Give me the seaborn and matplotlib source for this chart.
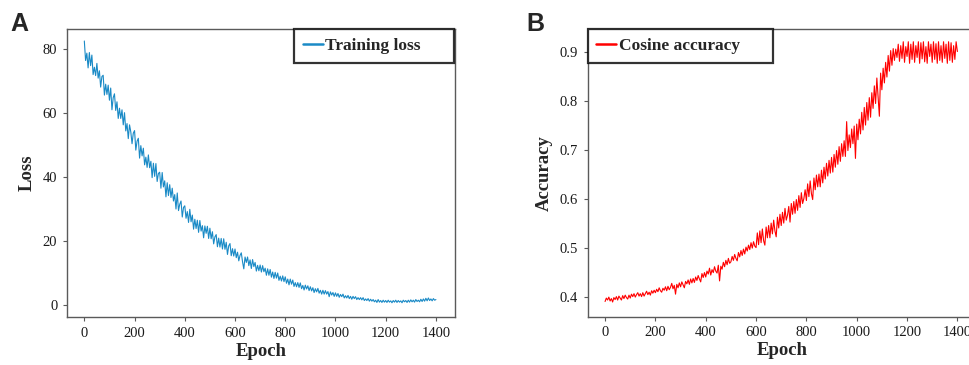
import numpy as np
import pandas as pd
import matplotlib
matplotlib.use('Agg')
import matplotlib.pyplot as plt
import seaborn as sns

# epochs sampled every 5 steps
epochs = list(range(0, 1401, 5))

training_loss = [
    82.5, 76.4, 78.7, 74.1, 78.9, 74.8, 78.1, 72.0, 74.3, 71.7,
    75.5, 70.9, 73.2, 68.1, 71.4, 71.8, 65.6, 69.0, 65.8, 68.7,
    64.0, 67.8, 61.0, 64.8, 66.0, 60.8, 63.5, 58.3, 61.5, 58.3,
    61.0, 56.3, 60.1, 54.4, 56.7, 52.0, 56.3, 54.1, 50.4, 53.7,
    54.5, 48.4, 51.2, 52.1, 45.9, 49.8, 46.6, 49.0, 43.8, 46.2,
    43.0, 46.9, 42.9, 44.9, 39.8, 44.3, 40.2, 44.2, 38.6, 41.1,
    41.5, 36.5, 41.4, 36.9, 38.8, 33.8, 38.2, 34.2, 37.6, 33.6,
    36.5, 32.5, 34.5, 30.0, 35.0, 29.5, 31.5, 32.5, 27.5, 30.5,
    31.0, 27.1, 29.2, 25.8, 29.9, 26.0, 28.1, 23.7, 26.8, 23.9,
    26.5, 22.7, 26.4, 23.1, 24.8, 21.0, 24.7, 22.4, 24.6, 20.8,
    24.0, 20.7, 22.9, 19.1, 21.3, 22.0, 18.2, 20.9, 18.1, 20.8,
    17.5, 20.7, 17.4, 19.6, 15.8, 18.5, 19.2, 15.4, 17.6, 15.3,
    17.5, 14.8, 16.5, 13.8, 15.5, 16.3, 13.5, 11.3, 15.0, 13.3,
    15.0, 12.3, 14.1, 11.4, 14.2, 12.0, 13.3, 10.6, 12.4, 10.7,
    12.5, 10.3, 12.3, 10.4, 11.5, 9.3, 11.3, 9.3, 11.1, 8.7,
    10.3, 8.3, 10.2, 8.4, 10.0, 7.7, 9.0, 7.5, 9.1, 7.3,
    8.8, 6.8, 8.1, 6.3, 8.1, 6.5, 7.8, 5.8, 7.0, 5.7,
    7.0, 5.5, 6.9, 5.1, 6.1, 4.7, 6.2, 5.0, 6.0, 4.5,
    5.7, 4.4, 5.4, 3.9, 5.1, 4.1, 5.2, 3.7, 4.6, 3.4,
    4.6, 3.4, 4.5, 3.4, 4.2, 2.6, 4.1, 3.1, 3.9, 2.7,
    3.8, 2.7, 3.6, 2.4, 3.3, 2.6, 3.4, 2.2, 2.9, 2.2,
    3.0, 2.0, 2.7, 1.8, 2.7, 2.0, 2.6, 1.7, 2.3, 1.7,
    2.3, 1.6, 2.3, 1.4, 1.9, 1.4, 2.0, 1.2, 1.8, 1.2,
    1.7, 1.0, 1.5, 0.8, 1.7, 0.9, 1.4, 0.8, 1.5, 0.9,
    1.4, 0.8, 1.5, 0.9, 1.3, 0.7, 1.4, 0.9, 1.5, 0.8,
    1.4, 0.9, 1.3, 0.7, 1.5, 1.0, 1.4, 0.8, 1.5, 0.9,
    1.6, 1.0, 1.5, 0.9, 1.7, 1.1, 1.5, 1.0, 1.8, 1.1,
    1.9, 1.2, 2.1, 1.3, 2.2, 1.4, 1.9, 1.3, 2.0, 1.5,
    1.7,
]

cosine_accuracy = [
    0.390, 0.397, 0.393, 0.399, 0.391, 0.396, 0.389, 0.398, 0.394, 0.400,
    0.393, 0.401, 0.397, 0.393, 0.402, 0.396, 0.403, 0.398, 0.395, 0.403,
    0.397, 0.405, 0.400, 0.406, 0.399, 0.404, 0.408, 0.401, 0.406, 0.400,
    0.408, 0.401, 0.406, 0.411, 0.404, 0.409, 0.403, 0.412, 0.407, 0.413,
    0.408, 0.415, 0.410, 0.418, 0.412, 0.409, 0.417, 0.413, 0.420, 0.412,
    0.421, 0.414, 0.419, 0.427, 0.416, 0.423, 0.405, 0.425, 0.418, 0.428,
    0.420, 0.430, 0.424, 0.418, 0.431, 0.426, 0.434, 0.425, 0.436, 0.428,
    0.437, 0.429, 0.440, 0.433, 0.443, 0.436, 0.430, 0.447, 0.439, 0.449,
    0.440, 0.452, 0.446, 0.458, 0.444, 0.455, 0.449, 0.461, 0.452, 0.448,
    0.464, 0.432, 0.462, 0.456, 0.470, 0.461, 0.474, 0.465, 0.478, 0.468,
    0.471, 0.482, 0.474, 0.486, 0.478, 0.473, 0.490, 0.481, 0.494, 0.484,
    0.497, 0.487, 0.501, 0.493, 0.505, 0.496, 0.510, 0.499, 0.512, 0.503,
    0.500, 0.530, 0.506, 0.534, 0.510, 0.538, 0.514, 0.505, 0.542, 0.520,
    0.545, 0.520, 0.550, 0.528, 0.556, 0.534, 0.522, 0.562, 0.540, 0.568,
    0.545, 0.572, 0.550, 0.580, 0.556, 0.566, 0.584, 0.552, 0.590, 0.568,
    0.594, 0.570, 0.598, 0.576, 0.606, 0.582, 0.612, 0.590, 0.600, 0.618,
    0.596, 0.630, 0.604, 0.636, 0.610, 0.598, 0.642, 0.618, 0.648, 0.624,
    0.650, 0.624, 0.658, 0.632, 0.664, 0.640, 0.672, 0.646, 0.678, 0.652,
    0.684, 0.654, 0.690, 0.664, 0.698, 0.670, 0.706, 0.676, 0.712, 0.686,
    0.718, 0.686, 0.757, 0.698, 0.730, 0.704, 0.742, 0.712, 0.748, 0.682,
    0.752, 0.720, 0.762, 0.732, 0.776, 0.740, 0.786, 0.750, 0.796, 0.760,
    0.806, 0.766, 0.816, 0.784, 0.830, 0.794, 0.846, 0.806, 0.768, 0.856,
    0.822, 0.866, 0.836, 0.878, 0.848, 0.892, 0.860, 0.902, 0.872, 0.906,
    0.882, 0.905, 0.888, 0.915, 0.880, 0.912, 0.886, 0.920, 0.878, 0.910,
    0.890, 0.920, 0.876, 0.915, 0.884, 0.920, 0.878, 0.912, 0.888, 0.920,
    0.876, 0.918, 0.885, 0.920, 0.879, 0.910, 0.876, 0.920, 0.890, 0.915,
    0.878, 0.920, 0.884, 0.916, 0.876, 0.920, 0.882, 0.912, 0.878, 0.920,
    0.886, 0.915, 0.876, 0.920, 0.882, 0.918, 0.878, 0.912, 0.884, 0.920,
    0.900,
]

loss_ticks = [0, 20, 40, 60, 80]
acc_ticks = [0.4, 0.5, 0.6, 0.7, 0.8, 0.9]
epoch_ticks = [0, 200, 400, 600, 800, 1000, 1200, 1400]

sns.set_style('white')
plt.rcParams['font.family'] = ['Liberation Serif', 'DejaVu Serif']

W, H = 969, 365
fig = plt.figure(figsize=(W / 100, H / 100), dpi=100)

df = pd.DataFrame({'Epoch': epochs, 'loss': training_loss, 'acc': cosine_accuracy})

spine_color = '#5a5a5a'


def style_axes(ax, ylabel, yticks, ylim, fmt):
    ax.set_xlim(-69, 1476)
    ax.set_ylim(*ylim)
    ax.set_xticks(epoch_ticks)
    ax.set_yticks(yticks)
    ax.set_yticklabels([fmt.format(v) for v in yticks])
    ax.tick_params(axis='both', which='major', direction='out', length=3,
                   width=0.8, color=spine_color, labelsize=10.5, labelcolor='#1a1a1a',
                   pad=4, bottom=True, left=True)
    for s in ax.spines.values():
        s.set_color(spine_color)
        s.set_linewidth(1.0)
    ax.set_xlabel('Epoch', fontsize=13.5, fontweight='bold', labelpad=2)
    ax.set_ylabel(ylabel, fontsize=13.5, fontweight='bold', labelpad=5)


def add_legend(ax, x0, width):
    leg = ax.legend(loc='upper left', bbox_to_anchor=(x0, 1.0, width, 0.0),
                    mode='expand', borderaxespad=0, frameon=True, fancybox=False,
                    handlelength=1.15, handletextpad=0.15, borderpad=0.5,
                    prop={'family': 'Liberation Serif', 'weight': 'bold', 'size': 12.5})
    fr = leg.get_frame()
    fr.set_edgecolor('black')
    fr.set_linewidth(1.6)
    for line in leg.get_lines():
        line.set_linewidth(1.8)


# panel A
axA = fig.add_axes([67 / W, 48 / H, 388 / W, 288 / H])
sns.lineplot(data=df, x='Epoch', y='loss', ax=axA, color='#1a8ac6',
             linewidth=0.8, label='Training loss')
style_axes(axA, 'Loss', loss_ticks, (-3.75, 86.25), '{:g}')
add_legend(axA, (294 - 67) / 388, 160 / 388)

# panel B
axB = fig.add_axes([587.7 / W, 48.3 / H, 388.8 / W, 287.7 / H])
sns.lineplot(data=df, x='Epoch', y='acc', ax=axB, color='#ff0000',
             linewidth=0.8, label='Cosine accuracy')
style_axes(axB, 'Accuracy', acc_ticks, (0.359, 0.946), '{:.1f}')
add_legend(axB, 0.0, 185.3 / 388.8)

fig.text(10 / W, 1 - 12 / H, 'A', fontsize=18, fontweight='bold',
         family='Liberation Sans', va='top', ha='left')
fig.text(526 / W, 1 - 12 / H, 'B', fontsize=18, fontweight='bold',
         family='Liberation Sans', va='top', ha='left')

fig.savefig('out.png', dpi=100)
